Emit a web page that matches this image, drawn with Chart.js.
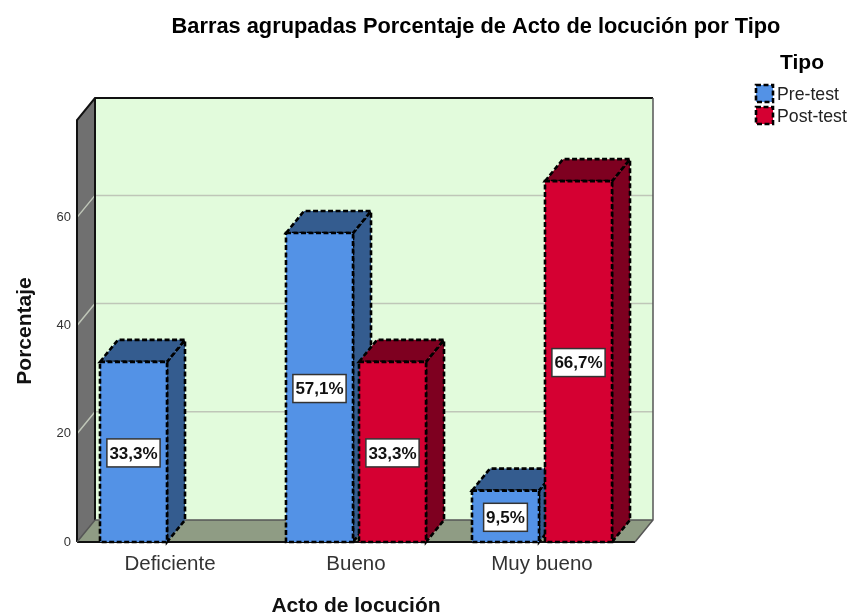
<!DOCTYPE html>
<html>
<head>
<meta charset="utf-8">
<script src="https://cdn.jsdelivr.net/npm/chart.js@4/dist/chart.umd.min.js"></script>
<style>
	html, body { margin: 0; padding: 0; background: #fff; }
	canvas { display: block; }
</style>
</head>
<body>
<canvas id="barChart" width="850" height="615"></canvas>
<script>
	const categories = ["Deficiente", "Bueno", "Muy bueno"];
	const preTest = [33.3, 57.1, 9.5];
	const postTest = [null, 33.3, 66.7];
	const seriesNames = ["Pre-test", "Post-test"];

	const chartTitle = "Barras agrupadas Porcentaje de Acto de locución por Tipo";
	const legendTitle = "Tipo";
	const fontName = "'Liberation Sans', Arial, sans-serif";

	// colores: frente y lado/tapa de cada serie
	const frontColors = ["#5392E6", "#D50032"];
	const sideColors = ["#345C8F", "#7E0020"];

	// profundidad del efecto 3D
	const depthX = 18;
	const depthY = 22;

	function polygon(ctx, points, fill) {
		ctx.beginPath();
		points.forEach((p, i) => i ? ctx.lineTo(p[0], p[1]) : ctx.moveTo(p[0], p[1]));
		ctx.closePath();
		if (fill) {
			ctx.fillStyle = fill;
			ctx.fill();
		}
	}

	function dashedFace(ctx, points, fill) {
		polygon(ctx, points, fill);
		ctx.strokeStyle = "#000";
		ctx.lineWidth = 2.6;
		ctx.setLineDash([5, 2.5]);
		ctx.stroke();
		ctx.setLineDash([]);
	}

	const walls3d = {
		id: "walls3d",
		beforeDatasetsDraw(chart) {
			const ctx = chart.ctx;
			const { left, right, top, bottom } = chart.chartArea;
			const y = chart.scales.y;

			ctx.save();
			// pared del fondo
			polygon(ctx, [[left + depthX, top - depthY], [right + depthX, top - depthY], [right + depthX, bottom - depthY], [left + depthX, bottom - depthY]], "#E2FBDC");
			// pared izquierda
			polygon(ctx, [[left, top], [left + depthX, top - depthY], [left + depthX, bottom - depthY], [left, bottom]], "#707070");
			// piso
			polygon(ctx, [[left, bottom], [left + depthX, bottom - depthY], [right + depthX, bottom - depthY], [right, bottom]], "#8F9C84");

			// lineas de cuadricula
			ctx.strokeStyle = "#BFC6B8";
			ctx.lineWidth = 1.5;
			y.ticks.forEach(t => {
				if (t.value === 0) return;
				const py = y.getPixelForValue(t.value);
				ctx.beginPath();
				ctx.moveTo(left, py);
				ctx.lineTo(left + depthX, py - depthY);
				ctx.lineTo(right + depthX, py - depthY);
				ctx.stroke();
			});

			// bordes
			ctx.strokeStyle = "#111";
			ctx.lineWidth = 2;
			ctx.beginPath();
			ctx.moveTo(left, bottom);
			ctx.lineTo(left, top);
			ctx.lineTo(left + depthX, top - depthY);
			ctx.lineTo(right + depthX, top - depthY);
			ctx.moveTo(left + depthX, top - depthY);
			ctx.lineTo(left + depthX, bottom - depthY);
			ctx.moveTo(left, bottom);
			ctx.lineTo(right, bottom);
			ctx.stroke();

			ctx.strokeStyle = "#555";
			ctx.lineWidth = 1.5;
			ctx.beginPath();
			ctx.moveTo(right + depthX, top - depthY);
			ctx.lineTo(right + depthX, bottom - depthY);
			ctx.lineTo(right, bottom);
			ctx.moveTo(left + depthX, bottom - depthY);
			ctx.lineTo(right + depthX, bottom - depthY);
			ctx.moveTo(left, bottom);
			ctx.lineTo(left + depthX, bottom - depthY);
			ctx.stroke();
			ctx.restore();
		}
	};

	const bars3d = {
		id: "bars3d",
		afterDatasetsDraw(chart) {
			const ctx = chart.ctx;
			const bars = [];
			chart.data.datasets.forEach((ds, d) => {
				chart.getDatasetMeta(d).data.forEach((el, i) => {
					if (ds.data[i] !== null) bars.push({ el, d, value: ds.data[i] });
				});
			});
			bars.sort((a, b) => a.el.x - b.el.x);

			ctx.save();
			bars.forEach(({ el, d }) => {
				const x0 = el.x - el.width / 2;
				const x1 = el.x + el.width / 2;
				const yt = el.y;
				const yb = el.base;
				dashedFace(ctx, [[x1, yt], [x1 + depthX, yt - depthY], [x1 + depthX, yb - depthY], [x1, yb]], sideColors[d]);
				dashedFace(ctx, [[x0, yt], [x0 + depthX, yt - depthY], [x1 + depthX, yt - depthY], [x1, yt]], sideColors[d]);
				dashedFace(ctx, [[x0, yt], [x1, yt], [x1, yb], [x0, yb]], frontColors[d]);
			});

			// etiquetas de valor
			ctx.font = "bold 17px " + fontName;
			ctx.textAlign = "center";
			ctx.textBaseline = "middle";
			bars.forEach(({ el, value }) => {
				const text = value.toFixed(1).replace(".", ",") + "%";
				const w = ctx.measureText(text).width + 5;
				const h = 28;
				const cy = (el.y + el.base) / 2 + 1;
				ctx.fillStyle = "#fff";
				ctx.fillRect(el.x - w / 2, cy - h / 2, w, h);
				ctx.strokeStyle = "#333";
				ctx.lineWidth = 1.5;
				ctx.strokeRect(el.x - w / 2, cy - h / 2, w, h);
				ctx.fillStyle = "#111";
				ctx.fillText(text, el.x, cy + 1);
			});
			ctx.restore();
		}
	};

	const titleAndLegend = {
		id: "titleAndLegend",
		afterDraw(chart) {
			const ctx = chart.ctx;
			ctx.save();
			ctx.textBaseline = "middle";
			ctx.fillStyle = "#000";
			ctx.textAlign = "center";
			ctx.font = "bold 21.8px " + fontName;
			ctx.fillText(chartTitle, 476, 27);
			ctx.font = "bold 21px " + fontName;
			ctx.fillText(legendTitle, 802, 63);

			ctx.textAlign = "left";
			ctx.font = "17.7px " + fontName;
			seriesNames.forEach((name, i) => {
				const top = 85 + i * 22;
				dashedFace(ctx, [[756, top], [773, top], [773, top + 17], [756, top + 17]], frontColors[i]);
				ctx.fillStyle = "#222";
				ctx.fillText(name, 777, top + 10);
			});
			ctx.restore();
		}
	};

	new Chart(document.getElementById("barChart"), {
		type: "bar",
		plugins: [walls3d, bars3d, titleAndLegend],
		data: {
			labels: categories,
			datasets: [
				{ label: seriesNames[0], data: preTest, backgroundColor: frontColors[0], categoryPercentage: 0.785, barPercentage: 0.918 },
				{ label: seriesNames[1], data: postTest, backgroundColor: frontColors[1], categoryPercentage: 0.785, barPercentage: 0.918 }
			]
		},
		options: {
			responsive: false,
			animation: false,
			layout: { padding: { top: 120, right: 215, bottom: 0, left: 13 } },
			plugins: {
				legend: { display: false },
				tooltip: { enabled: false },
				title: { display: false }
			},
			scales: {
				x: {
					afterFit(scale) { scale.height = 73; },
					grid: { display: false, drawTicks: false },
					border: { display: false },
					ticks: { color: "#333", padding: 10, font: { size: 20.5, family: fontName } },
					title: { display: true, text: "Acto de locución", color: "#111", font: { size: 21, weight: "bold", family: fontName }, padding: { top: 0, bottom: -4 } }
				},
				y: {
					min: 0,
					max: 78,
					afterFit(scale) { scale.width = 64; },
					grid: { display: false, drawTicks: false },
					border: { display: false },
					ticks: { stepSize: 20, includeBounds: false, color: "#333", padding: 6, font: { size: 13, family: fontName } },
					title: { display: true, text: "Porcentaje", color: "#111", font: { size: 21, weight: "bold", family: fontName }, padding: { top: 0, bottom: 0 } }
				}
			}
		}
	});
</script>
</body>
</html>
